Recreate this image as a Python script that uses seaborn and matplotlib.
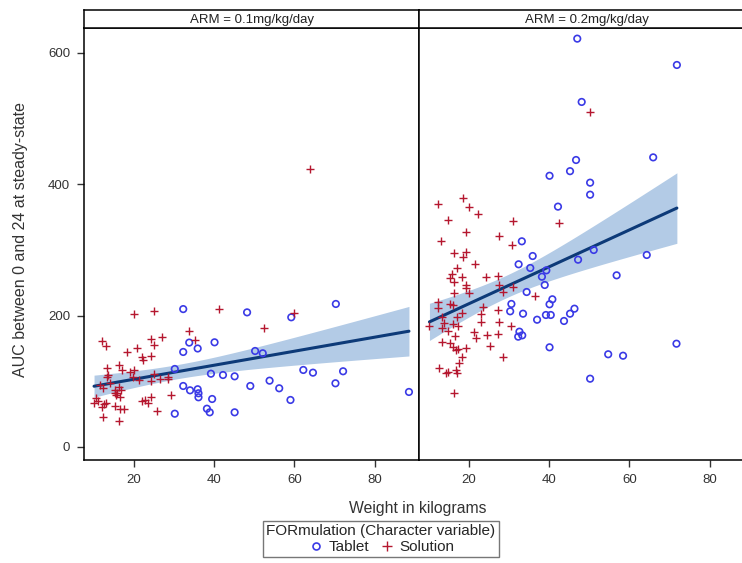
import numpy as np
import pandas as pd
import matplotlib
matplotlib.use("Agg")
import matplotlib.pyplot as plt
import seaborn as sns
from matplotlib.lines import Line2D

# ---------------- data ----------------
arms = ["ARM = 0.1mg/kg/day", "ARM = 0.2mg/kg/day"]
formulations = ["Tablet", "Solution"]

left_tab_x = [32.3, 48.2, 33.8, 35.9, 40.1, 32.3, 30.2, 39.2, 42.2, 45.1, 32.3, 34.0, 35.9,
              36.1, 36.1, 39.5, 38.2, 38.9, 30.2, 45.1, 49.0, 59.2, 70.3, 50.2, 52.1, 62.2,
              64.6, 72.1, 53.8, 56.2, 70.2, 59.0, 88.5]
left_tab_y = [210, 205, 159, 150, 159.4, 144.7, 118.8, 111.6, 109.6, 107.6, 92.9, 86.3, 87.9,
              81.8, 75.7, 73.1, 58.3, 52.8, 50.7, 52.8, 92.9, 197.5, 217.8, 146.2, 142.7, 117.3,
              113.2, 115.3, 101, 89.4, 97, 71.6, 83.8]

left_sol_x = [20.1, 25.1, 41.2, 12.2, 13.1, 33.8, 35.3, 24.3, 27.1, 25.1, 20.7, 18.3, 22.1,
              22.4, 24.3, 13.4, 16.4, 17.0, 19.1, 20.1, 13.3, 13.6, 19.9, 21.3, 25.1, 26.4,
              28.6, 28.4, 24.3, 11.6, 12.3, 14.1, 15.3, 15.9, 16.4, 16.8, 15.3, 15.6, 16.6,
              10.6, 11.0, 10.1, 12.5, 13.1, 12.1, 15.4, 16.6, 17.6, 22.1, 23.6, 24.3, 22.8,
              29.2, 25.8, 12.3, 16.4, 63.9, 59.8, 52.3]
left_sol_y = [203, 206.6, 210, 161, 154, 177, 163, 165, 168, 156, 150, 144, 137.5,
              132.5, 138.6, 120, 124.4, 117, 114, 117, 107, 109, 107, 102, 111, 104,
              107, 103, 101, 94, 89.4, 97, 86.8, 81.8, 91.8, 86.8, 81.8, 79.2, 75.7,
              74.2, 70.5, 67.5, 65.5, 67.5, 60.5, 62.4, 57.4, 57.4, 69.6, 67.5, 75.7, 71.6,
              78.7, 55.3, 46, 40, 423, 203.6, 180.8]

right_tab_x = [40.1, 45.2, 50.2, 50.2, 42.2, 33.2, 35.9, 32.4, 35.3, 39.3, 38.2, 38.9, 47.2,
               51.1, 64.3, 56.8, 34.4, 40.8, 40.1, 30.6, 30.3, 33.5, 39.2, 40.4, 37.0, 43.7,
               45.2, 46.3, 32.6, 32.3, 33.3, 40.1, 54.7, 58.4, 71.7, 50.2, 47.0, 71.8, 48.1,
               46.7, 65.9]
right_tab_y = [413, 420, 402.5, 384.2, 366, 313.2, 290.8, 278.2, 272.6, 269, 259.3, 246.7, 285.2,
               300, 292.4, 261.4, 236, 224.9, 217.3, 217.8, 206.6, 203, 201, 201, 193.8, 191.9,
               203, 210.6, 175.6, 168, 170, 151.8, 141.2, 139, 157.3, 104, 621.8, 581.7, 525.4,
               437, 441]

right_sol_x = [12.3, 18.6, 20.0, 22.3, 14.9, 31.1, 19.2, 13.2, 27.5, 30.8, 16.3, 19.2, 18.6,
               17.1, 21.6, 15.8, 15.3, 18.4, 16.4, 19.2, 19.2, 24.2, 27.3, 27.6, 28.5, 31.1,
               16.2, 20.0, 12.3, 12.3, 15.3, 16.0, 23.6, 27.3, 17.1, 18.4, 23.1, 10.2, 13.4,
               13.9, 13.3, 14.8, 16.1, 17.3, 23.1, 27.5, 30.4, 21.2, 21.7, 24.5, 27.3, 16.5,
               13.3, 15.2, 16.0, 16.7, 17.3, 19.2, 25.2, 18.4, 17.6, 28.5, 12.5, 14.2, 14.8,
               16.7, 17.1, 16.2, 42.4, 36.4, 50.1]
right_sol_y = [369.6, 378.7, 366, 354.8, 345.7, 344.2, 327.4, 313.2, 321.8, 307, 295, 297.4, 288.9,
               272.6, 278.2, 263, 257.8, 259.3, 250.8, 246.7, 242.1, 258.4, 260.4, 247.1, 236, 243.2,
               234, 234, 221.3, 211.2, 217.8, 216.2, 213.6, 208.6, 198.4, 203.6, 202.5, 184.7, 197.5,
               189.3, 180.8, 177.1, 187.3, 184.3, 189.9, 190.3, 184.7, 175.6, 166.4, 170.5, 172.5, 169,
               160.3, 158.8, 152.7, 147.7, 149.2, 150.3, 154.3, 137, 128.4, 137, 120.8, 112.2, 114.2,
               117.3, 113.1, 82.7, 340.6, 230.4, 510]

x_ticks = [20, 40, 60, 80]
y_ticks = [0, 200, 400, 600]

# ---------------- build table ----------------
frames = []
for arm, tx, ty, sx, sy in [(arms[0], left_tab_x, left_tab_y, left_sol_x, left_sol_y),
                            (arms[1], right_tab_x, right_tab_y, right_sol_x, right_sol_y)]:
    frames.append(pd.DataFrame({"Weight": tx, "AUC": ty, "Formulation": "Tablet", "Arm": arm}))
    frames.append(pd.DataFrame({"Weight": sx, "AUC": sy, "Formulation": "Solution", "Arm": arm}))
df = pd.concat(frames, ignore_index=True)

try:
    from scipy import stats
    def tcrit(dof):
        return stats.t.ppf(0.975, dof)
except Exception:
    def tcrit(dof):
        return 1.98


def conf_band(x, y, grid):
    """95% confidence limits for the mean of an OLS fit (like SAS CLM)."""
    x = np.asarray(x, float)
    y = np.asarray(y, float)
    n = len(x)
    b1, b0 = np.polyfit(x, y, 1)
    resid = y - (b0 + b1 * x)
    s = np.sqrt(np.sum(resid ** 2) / (n - 2))
    xm = x.mean()
    sxx = np.sum((x - xm) ** 2)
    fit = b0 + b1 * grid
    se = s * np.sqrt(1.0 / n + (grid - xm) ** 2 / sxx)
    t = tcrit(n - 2)
    return fit - t * se, fit + t * se


# ---------------- style ----------------
sns.set_style("white")
plt.rcParams["font.family"] = ["Liberation Sans", "DejaVu Sans"]

W, H = 742, 563
fig = plt.figure(figsize=(W / 100, H / 100), dpi=100)

tab_color = "#3a3ae6"
sol_color = "#b5172f"
line_color = "#0d3a78"
band_color = "#b3cbe6"

ax_left_px, ax_w_px = 84, 335
ax_top_px, ax_bot_px = 28, 460
strip_top_px = 10

xlim = (7.6, 91.0)
ylim = (-19.8, 638)

for i, arm in enumerate(arms):
    l = (ax_left_px + i * ax_w_px) / W
    b = (H - ax_bot_px) / H
    h = (ax_bot_px - ax_top_px) / H
    ax = fig.add_axes([l, b, ax_w_px / W, h])
    sub = df[df["Arm"] == arm]

    grid = np.linspace(sub["Weight"].min(), sub["Weight"].max(), 200)
    lo, hi = conf_band(sub["Weight"], sub["AUC"], grid)
    ax.fill_between(grid, lo, hi, color=band_color, lw=0, zorder=1)

    sns.regplot(data=sub, x="Weight", y="AUC", scatter=False, ci=None, ax=ax,
                truncate=True, line_kws={"color": line_color, "lw": 2.2, "zorder": 3})

    tab = sub[sub["Formulation"] == "Tablet"]
    sol = sub[sub["Formulation"] == "Solution"]
    sns.scatterplot(data=tab, x="Weight", y="AUC", ax=ax, marker="o", s=22,
                    facecolor="none", edgecolor=tab_color, linewidth=1.2, zorder=4, legend=False)
    sns.scatterplot(data=sol, x="Weight", y="AUC", ax=ax, marker="+", s=30,
                    color=sol_color, linewidth=1.0, zorder=4, legend=False)
    ax.set_xlim(*xlim)
    ax.set_ylim(*ylim)
    ax.set_xticks(x_ticks)
    ax.set_xticklabels([str(t) for t in x_ticks])
    ax.set_xlabel("")
    ax.set_ylabel("")
    ax.tick_params(axis="x", direction="out", length=5, width=1, colors="#333333",
                   labelsize=9.5, labelcolor="#333333", bottom=True, pad=5)
    ax.set_yticks(y_ticks)
    if i == 0:
        ax.set_yticklabels([str(t) for t in y_ticks])
        ax.tick_params(axis="y", direction="out", length=5, width=1, colors="#333333",
                       labelsize=9.5, labelcolor="#333333", left=True, pad=5)
    else:
        ax.tick_params(axis="y", left=False, labelleft=False)
    for sp in ax.spines.values():
        sp.set_color("black")
        sp.set_linewidth(1.1)

    # strip header
    sax = fig.add_axes([l, (H - ax_top_px) / H, ax_w_px / W, (ax_top_px - strip_top_px) / H])
    sax.set_xticks([])
    sax.set_yticks([])
    sax.set_facecolor("white")
    for sp in sax.spines.values():
        sp.set_color("black")
        sp.set_linewidth(1.1)
    sax.text(0.5, 0.45, arm, ha="center", va="center", fontsize=9.5, color="#222222",
             transform=sax.transAxes)

fig.text(418 / W, 1 - 508 / H, "Weight in kilograms", ha="center", va="center",
         fontsize=11.3, color="#333333")
fig.text(21 / W, 1 - 240 / H, "AUC between 0 and 24 at steady-state", ha="center",
         va="center", rotation=90, fontsize=11.5, color="#333333")

handles = [Line2D([], [], marker="o", ls="none", markerfacecolor="none",
                  markeredgecolor=tab_color, markersize=5, markeredgewidth=1.2),
           Line2D([], [], marker="+", ls="none", color=sol_color, markersize=7,
                  markeredgewidth=1.0)]
leg = fig.legend(handles, formulations, title="FORmulation (Character variable)",
                 ncol=2, loc="center", bbox_to_anchor=(381 / W, 1 - 539 / H),
                 frameon=True, fontsize=11, title_fontsize=11, handletextpad=0.3,
                 columnspacing=0.6, borderpad=0.2, handlelength=1.1,
                 fancybox=False, labelspacing=0.15, borderaxespad=0)
leg.get_frame().set_edgecolor("#555555")
leg.get_frame().set_linewidth(1.0)

fig.savefig("out.png", dpi=100)
